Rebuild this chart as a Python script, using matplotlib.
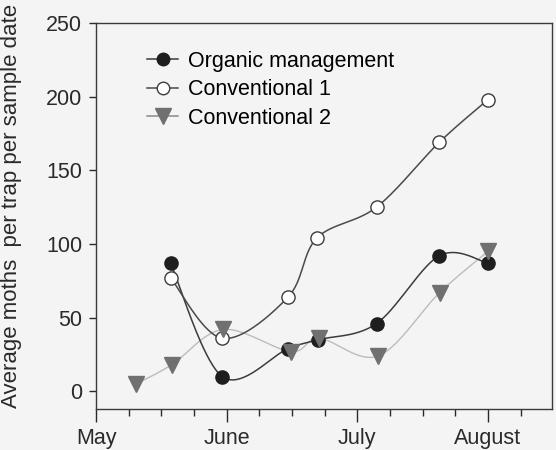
import numpy as np
import matplotlib
matplotlib.use("Agg")
import matplotlib.pyplot as plt
from matplotlib.lines import Line2D

plt.rcParams['font.family'] = ['Liberation Sans', 'DejaVu Sans']

# x in months after 1 May (May=0, June=1, July=2, August=3)
organic_x = [0.571, 0.966, 1.47, 1.70, 2.147, 2.627, 3.0]
organic_y = [87, 10, 29, 35, 46, 92, 87]

conv1_x = [0.571, 0.966, 1.47, 1.69, 2.147, 2.627, 3.0]
conv1_y = [77, 36, 64, 104, 125, 169, 198]

conv2_x = [0.306, 0.579, 0.974, 1.49, 1.71, 2.16, 2.63, 3.0]
conv2_y = [5, 18, 42, 27, 36, 24, 67, 95]

month_labels = ['May', 'June', 'July', 'August']


def smooth(x, y, sx=130.7, sy=1.47, num=40):
    # Catmull-Rom curve through the points, worked out in screen pixels
    P = np.column_stack([np.asarray(x, float) * sx, np.asarray(y, float) * sy])
    P = np.vstack([P[0], P, P[-1]])
    u = np.linspace(0, 1, num)[:, None]
    out = []
    for i in range(1, len(P) - 2):
        p0, p1, p2, p3 = P[i - 1], P[i], P[i + 1], P[i + 2]
        b1 = p1 + (p2 - p0) / 6
        b2 = p2 - (p3 - p1) / 6
        seg = ((1 - u) ** 3 * p1 + 3 * (1 - u) ** 2 * u * b1
               + 3 * (1 - u) * u ** 2 * b2 + u ** 3 * p2)
        out.append(seg)
    out = np.vstack(out)
    return out[:, 0] / sx, out[:, 1] / sy


bg = '#f4f4f4'
fig = plt.figure(figsize=(5.56, 4.5), dpi=100, facecolor=bg)
ax = fig.add_axes([0.1727, 0.0911, 0.8201, 0.8578])
ax.set_facecolor(bg)

c_org_line = '#3c3c3c'
c_c1_line = '#4a4a4a'
c_c2_line = '#bcbcbc'

xs, ys = smooth(conv2_x, conv2_y)
ax.plot(xs, ys, color=c_c2_line, lw=1.0, zorder=1)
ax.plot(conv2_x, conv2_y, ls='none', marker='v', ms=12, mfc='#707070',
        mec='#707070', zorder=4)

xs, ys = smooth(organic_x, organic_y)
ax.plot(xs, ys, color=c_org_line, lw=1.1, zorder=2)
ax.plot(organic_x, organic_y, ls='none', marker='o', ms=9.5, mfc='#1e1e1e',
        mec='#1e1e1e', zorder=3)

xs, ys = smooth(conv1_x, conv1_y)
ax.plot(xs, ys, color=c_c1_line, lw=1.1, zorder=2)
ax.plot(conv1_x, conv1_y, ls='none', marker='o', ms=9.5, mfc='white',
        mec='#3c3c3c', mew=1.0, zorder=3)

ax.set_xlim(0, 3.49)
ax.set_ylim(-12, 250)
ax.set_xticks([0, 1, 2, 3])
ax.set_xticklabels(month_labels)
ax.set_xticks(np.arange(0.25, 3.5, 0.25), minor=True)
ax.set_yticks([0, 50, 100, 150, 200, 250])

ax.tick_params(axis='both', which='major', direction='out', labelsize=15.5,
               colors='#2a2a2a', width=1.0)
ax.tick_params(axis='x', which='major', length=9, pad=5)
ax.tick_params(axis='x', which='minor', direction='out', length=5, width=1.0,
               color='#2a2a2a')
ax.tick_params(axis='y', which='major', length=5, pad=5)
for s in ax.spines.values():
    s.set_color('#3a3a3a')
    s.set_linewidth(1.0)

ax.set_ylabel('Average moths  per trap per sample date', fontsize=16,
              color='#2a2a2a')
ax.yaxis.set_label_coords(-0.162, 0.526)

handles = [
    Line2D([], [], color=c_org_line, lw=1.1, marker='o', ms=9,
           mfc='#1e1e1e', mec='#1e1e1e'),
    Line2D([], [], color=c_c1_line, lw=1.1, marker='o', ms=9,
           mfc='white', mec='#3c3c3c'),
    Line2D([], [], color='#8a8a8a', lw=1.1, marker='v', ms=11,
           mfc='#707070', mec='#707070'),
]
ax.legend(handles, ['Organic management', 'Conventional 1', 'Conventional 2'],
          loc='upper left', bbox_to_anchor=(0.093, 0.95), frameon=False,
          fontsize=15.5, handlelength=1.45, handletextpad=0.45,
          labelspacing=0.35, borderaxespad=0)

fig.savefig('out.png', dpi=100, facecolor=bg)
